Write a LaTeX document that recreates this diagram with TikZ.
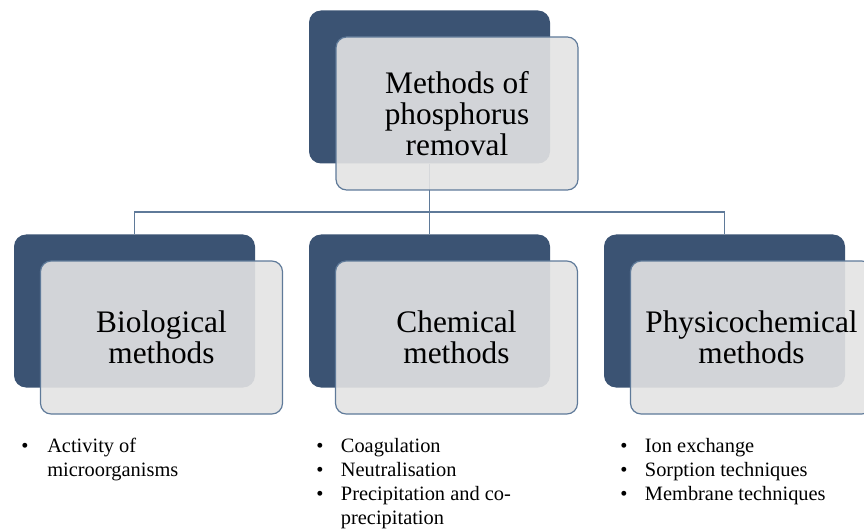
\documentclass[tikz,border=0pt]{standalone}
\usepackage{fontspec}
\setmainfont{Liberation Serif}
\definecolor{darkbox}{HTML}{3B5373}
\definecolor{lightfill}{HTML}{E3E3E3}
\definecolor{edgeblue}{HTML}{5F7A99}
\begin{document}
\begin{tikzpicture}[x=0.75pt,y=-0.75pt,
  darkbox/.style={fill=darkbox, draw=none, rounded corners=9pt,
    minimum width=241*0.75pt, minimum height=153*0.75pt, inner sep=0pt},
  lightbox/.style={fill=lightfill, fill opacity=0.9, text opacity=1,
    draw=edgeblue, line width=0.9pt, rounded corners=8pt,
    minimum width=242*0.75pt, minimum height=153*0.75pt, inner sep=0pt,
    align=center, text=black, font=\fontsize{23.5}{23.3}\selectfont},
  conn/.style={draw=edgeblue, line width=0.8pt},
  bullets/.style={anchor=north west, inner sep=0pt, align=left, text=black,
    font=\fontsize{15.3}{18}\selectfont}
]
\useasboundingbox (0,0) rectangle (864,531);
\begin{scope}
\clip (0,0) rectangle (864,531);
% dark back boxes
\node[darkbox] (topD)  at (429.5,87) {};
\node[darkbox] (bioD)  at (134.5,311) {};
\node[darkbox] (chemD) at (429.5,311) {};
\node[darkbox] (physD) at (724.5,311) {};
% connectors
\coordinate (bus) at (429.5,212);
\draw[conn] (topD.south) -- (bus);
\draw[conn] (bus) -| (bioD.north);
\draw[conn] (bus) -- (chemD.north);
\draw[conn] (bus) -| (physD.north);
% light front boxes
\node[lightbox] (top)  at (457,113.5) {Methods of\\phosphorus\\removal};
\node[lightbox] (bio)  at (161.5,337.5) {Biological\\methods};
\node[lightbox] (chem) at (456.5,337.5) {Chemical\\methods};
\node[lightbox] (phys) at (751.5,337.5) {Physicochemical\\methods};
\end{scope}
% bullet lists
\node[bullets] (bioL) at (21,435) {\begin{tabular}{@{}p{19.5pt}@{}l@{}}
\textbullet & Activity of\\ & microorganisms\end{tabular}};
\node[bullets] (chemL) at (316,435) {\begin{tabular}{@{}p{18.5pt}@{}l@{}}
\textbullet & Coagulation\\
\textbullet & Neutralisation\\
\textbullet & Precipitation and co-\\
 & precipitation\end{tabular}};
\node[bullets] (physL) at (620,435) {\begin{tabular}{@{}p{18.5pt}@{}l@{}}
\textbullet & Ion exchange\\
\textbullet & Sorption techniques\\
\textbullet & Membrane techniques\end{tabular}};
\end{tikzpicture}
\end{document}
